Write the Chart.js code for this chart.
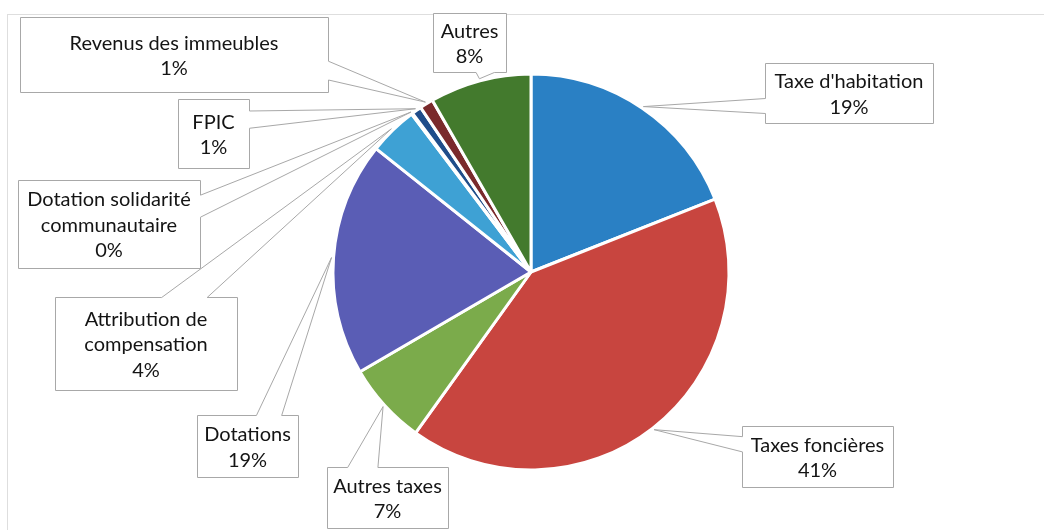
<!DOCTYPE html>
<html>
<head>
<meta charset="utf-8">
<script src="https://cdn.jsdelivr.net/npm/chart.js@4.4.0/dist/chart.umd.min.js"></script>
<style>
html,body{margin:0;padding:0;background:#ffffff;}
#wrap{width:1044px;height:530px;position:relative;}
</style>
</head>
<body>
<div id="wrap"><canvas id="c" width="1044" height="530"></canvas></div>
<script>
// ---- data ----
const categories = [
  "Taxe d'habitation",
  "Taxes foncières",
  "Autres taxes",
  "Dotations",
  "Attribution de compensation",
  "Dotation solidarité communautaire",
  "FPIC",
  "Revenus des immeubles",
  "Autres"
];
const values = [19.0, 40.9, 6.7, 19.1, 4.0, 0.1, 0.8, 1.1, 8.3];
const sliceColors = ["#2a80c4", "#c8453f", "#7bab4b", "#5a5db5", "#3ea1d4", "#e8912f", "#1f4d8a", "#7a2a2c", "#437a2d"];
// text lines of each callout (category name split as in the picture)
const labelLines = [
  ["Taxe d'habitation"],
  ["Taxes foncières"],
  ["Autres taxes"],
  ["Dotations"],
  ["Attribution de", "compensation"],
  ["Dotation solidarité", "communautaire"],
  ["FPIC"],
  ["Revenus des immeubles"],
  ["Autres"]
];
// ---- callout layout (boxes and wedge side) ----
const labelBoxes = [
  {x:765, y:63,  w:168, h:60, side:"left",   half:1},
  {x:742, y:426, w:151, h:61, side:"left",   half:0},
  {x:327, y:467, w:121, h:61, side:"top",    half:0},
  {x:197, y:415, w:101, h:62, side:"top",    half:1},
  {x:55,  y:297, w:182, h:93, side:"top",    half:1},
  {x:18,  y:180, w:182, h:88, side:"right",  half:0},
  {x:178, y:99,  w:71,  h:69, side:"right",  half:0},
  {x:20,  y:17,  w:308, h:75, side:"right",  half:1},
  {x:433, y:13,  w:73,  h:59, side:"bottom", half:1}
];

const FONT = '20px Lato';
const LINE_H = 25.5;

function calloutPath(ctx, b, tip) {
  const x = Math.round(b.x) + 0.5, y = Math.round(b.y) + 0.5, w = b.w, h = b.h;
  const f = b.half ? [7/12, 10/12] : [2/12, 5/12];
  ctx.beginPath();
  ctx.moveTo(x, y);
  if (b.side === 'top') { ctx.lineTo(x + w*f[0], y); ctx.lineTo(tip.x, tip.y); ctx.lineTo(x + w*f[1], y); }
  ctx.lineTo(x + w, y);
  if (b.side === 'right') { ctx.lineTo(x + w, y + h*f[0]); ctx.lineTo(tip.x, tip.y); ctx.lineTo(x + w, y + h*f[1]); }
  ctx.lineTo(x + w, y + h);
  if (b.side === 'bottom') { ctx.lineTo(x + w*f[1], y + h); ctx.lineTo(tip.x, tip.y); ctx.lineTo(x + w*f[0], y + h); }
  ctx.lineTo(x, y + h);
  if (b.side === 'left') { ctx.lineTo(x, y + h*f[1]); ctx.lineTo(tip.x, tip.y); ctx.lineTo(x, y + h*f[0]); }
  ctx.closePath();
}

const calloutPlugin = {
  id: 'callouts',
  beforeDraw(chart) {
    const ctx = chart.ctx;
    ctx.save();
    ctx.fillStyle = '#ffffff';
    ctx.fillRect(0, 0, chart.width, chart.height);
    // faint outer chart frame
    ctx.strokeStyle = '#dedede';
    ctx.lineWidth = 1;
    ctx.strokeRect(7.5, 14.5, 1200, 700);
    ctx.restore();
  },
  afterDatasetsDraw(chart) {
    const ctx = chart.ctx;
    const meta = chart.getDatasetMeta(0);
    const total = values.reduce((a, b) => a + b, 0);
    const tips = meta.data.map(arc => {
      const p = arc.getProps(['x', 'y', 'startAngle', 'endAngle', 'outerRadius'], true);
      const mid = (p.startAngle + p.endAngle) / 2;
      const r = p.outerRadius + 2;
      return {x: p.x + Math.cos(mid) * r, y: p.y + Math.sin(mid) * r};
    });
    ctx.save();
    // fills first
    labelBoxes.forEach((b, i) => {
      calloutPath(ctx, b, tips[i]);
      ctx.fillStyle = '#ffffff';
      ctx.fill();
    });
    // outlines
    labelBoxes.forEach((b, i) => {
      calloutPath(ctx, b, tips[i]);
      ctx.strokeStyle = '#a8a8a8';
      ctx.lineWidth = 1;
      ctx.stroke();
    });
    // texts
    ctx.fillStyle = '#141414';
    ctx.font = FONT;
    ctx.textAlign = 'center';
    ctx.textBaseline = 'middle';
    labelBoxes.forEach((b, i) => {
      const pct = Math.round(values[i] / total * 100) + '%';
      const lines = labelLines[i].concat([pct]);
      const cx = b.x + b.w / 2;
      const cy = b.y + b.h / 2 + 1.5;
      const y0 = cy - (lines.length - 1) * LINE_H / 2;
      lines.forEach((t, k) => ctx.fillText(t, cx, y0 + k * LINE_H));
    });
    ctx.restore();
  }
};

function draw() {
  new Chart(document.getElementById('c'), {
    type: 'pie',
    data: {
      labels: categories,
      datasets: [{
        data: values,
        backgroundColor: sliceColors,
        borderColor: '#ffffff',
        borderWidth: 3,
        hoverOffset: 0,
        radius: 198
      }]
    },
    options: {
      responsive: false,
      animation: false,
      devicePixelRatio: 1,
      layout: {padding: {left: 18, right: 0, top: 14, bottom: 0}},
      plugins: {legend: {display: false}, tooltip: {enabled: false}}
    },
    plugins: [calloutPlugin]
  });
}
if (document.fonts && document.fonts.load) {
  document.fonts.load(FONT).then(draw, draw);
} else { draw(); }
</script>
</body>
</html>
